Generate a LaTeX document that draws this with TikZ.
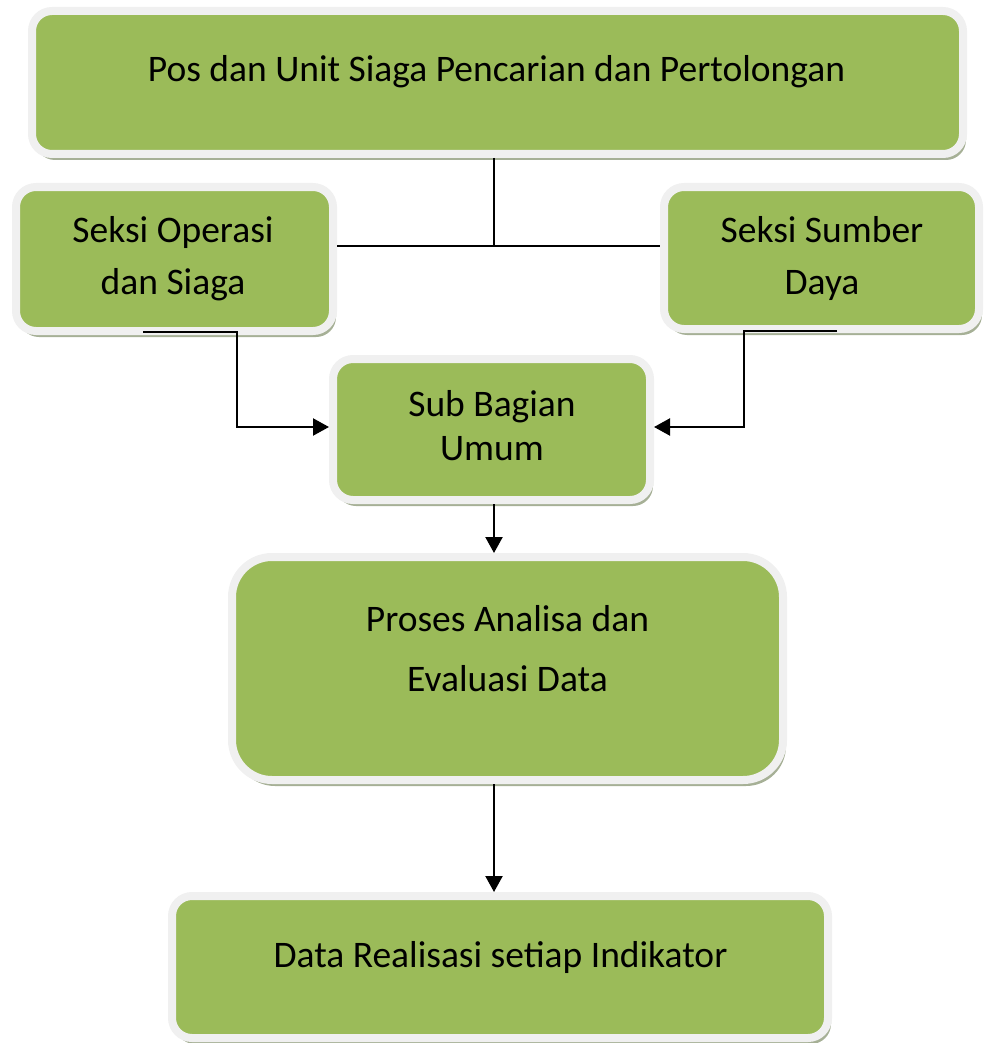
\documentclass[tikz,border=0pt]{standalone}
\usepackage{fontspec}
\setmainfont{Carlito}
\usetikzlibrary{shadows,arrows.meta}
\definecolor{boxgreen}{RGB}{155,187,89}
\definecolor{rimgray}{RGB}{240,240,240}
\definecolor{shadegray}{RGB}{166,176,150}
\tikzset{
  gbox/.style={rectangle, rounded corners=#1, draw=rimgray, line width=8pt, fill=boxgreen,
    inner sep=0pt, general shadow={fill=shadegray, shadow xshift=3pt, shadow yshift=-6pt}},
  gbox/.default=20pt,
  lbl/.style={align=center, inner sep=0pt, text=black},
  conn/.style={line width=2.2pt, black},
  arr/.style={conn, -{Triangle[length=16pt,width=17pt]}},
}
\begin{document}
\begin{tikzpicture}[x=1pt,y=-1pt]
\useasboundingbox (0,0) rectangle (984,1043);
% boxes
\node[gbox, minimum width=931pt, minimum height=143pt] (b1) at (497.5,82.5) {};
\node[gbox, minimum width=317pt, minimum height=144pt] (b2) at (174.5,259) {};
\node[gbox, minimum width=315pt, minimum height=142pt] (b3) at (821.5,258) {};
\node[gbox, minimum width=317pt, minimum height=141pt] (b4) at (491.5,429.5) {};
\node[gbox=40pt, minimum width=551pt, minimum height=223pt] (b5) at (507.5,668.5) {};
\node[gbox, minimum width=656pt, minimum height=142pt] (b6) at (500,967) {};
% texts
\node[lbl, font=\fontsize{37.5}{40}\selectfont] (t1) at (496.5,72) {Pos dan Unit Siaga Pencarian dan Pertolongan};
\node[lbl, font=\fontsize{37.5}{52}\selectfont] (t2) at (173,259) {Seksi Operasi\\dan Siaga};
\node[lbl, font=\fontsize{37.5}{52}\selectfont] (t3) at (822,259) {Seksi Sumber\\Daya};
\node[lbl, font=\fontsize{37.5}{44}\selectfont] (t4) at (492,426) {Sub Bagian\\Umum};
\node[lbl, font=\fontsize{37.5}{60}\selectfont] (t5) at (507.5,649) {Proses Analisa dan\\Evaluasi Data};
\node[lbl, font=\fontsize{37.5}{40}\selectfont] (t6) at (500.5,957) {Data Realisasi setiap Indikator};
% connectors
\coordinate (j) at (494,246);
\draw[conn] (b1.south -| j) -- (j);
\draw[conn] (b2.east |- j) -- (b3.west |- j);
\coordinate (s2) at (143,332);
\coordinate (k2) at (237,427);
\draw[arr] (s2) -| (k2) -- (b4.west |- k2);
\coordinate (s3) at (837,331);
\coordinate (k3) at (744,427);
\draw[arr] (s3) -| (k3) -- (b4.east |- k3);
\draw[arr] (b4.south -| j) -- (b5.north -| j);
\draw[arr] (b5.south -| j) -- (b6.north -| j);
\end{tikzpicture}
\end{document}
